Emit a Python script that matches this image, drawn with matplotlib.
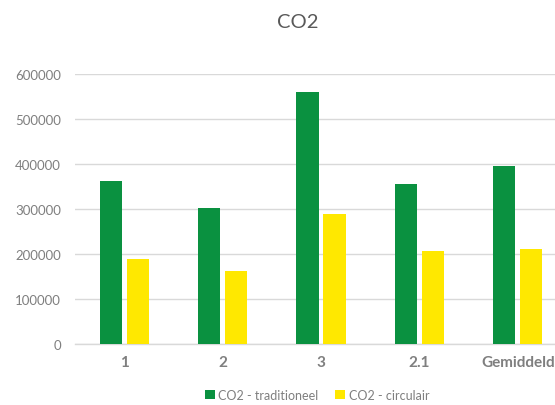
import matplotlib
matplotlib.use("Agg")
import matplotlib.pyplot as plt
import numpy as np
from matplotlib.patches import Patch

categories = ["1", "2", "3", "2.1", "Gemiddeld"]
traditioneel = [362000, 303000, 561000, 356000, 395500]
circulair = [189000, 163000, 288000, 207000, 211750]
series_names = ["CO2 - traditioneel", "CO2 - circulair"]
yticks = [0, 100000, 200000, 300000, 400000, 500000, 600000]

green = "#0A9140"
yellow = "#FFE800"
grid_col = "#D9D9D9"
text_col = "#7F7F7F"

plt.rcParams["font.family"] = ["Lato", "DejaVu Sans"]

W, H = 555, 406
fig = plt.figure(figsize=(W / 100, H / 100), dpi=100)
ax = fig.add_axes([75 / W, 61 / H, 492 / W, 270 / H])

x = np.arange(len(categories))
bw = 0.225
off = 0.137
ax.bar(x - off, traditioneel, bw, color=green, zorder=3)
ax.bar(x + off, circulair, bw, color=yellow, zorder=3)

ax.set_xlim(-0.5, len(categories) - 0.5)
ax.set_ylim(0, 600000)
ax.set_yticks(yticks)
ax.set_yticklabels([str(v) for v in yticks], fontsize=9.5, color=text_col)
ax.set_xticks(x)
ax.set_xticklabels(categories, fontsize=11, fontweight="bold", color=text_col)
ax.tick_params(axis="both", length=0)
ax.tick_params(axis="y", pad=10)
ax.tick_params(axis="x", pad=8)

ax.yaxis.grid(True, color=grid_col, linewidth=1, zorder=0)
for s in ["top", "right", "left"]:
    ax.spines[s].set_visible(False)
ax.spines["bottom"].set_color(grid_col)
ax.spines["bottom"].set_linewidth(1)

fig.text(298 / W, 1 - 22 / H, "CO2", ha="center", va="center", fontsize=14.5, color="#595959")

handles = [Patch(facecolor=green, label=series_names[0]),
           Patch(facecolor=yellow, label=series_names[1])]
fig.legend(handles=handles, loc="center", bbox_to_anchor=(317 / W, 1 - 396 / H),
           ncol=2, frameon=False, fontsize=9, labelcolor=text_col,
           handlelength=0.8, handleheight=0.8, handletextpad=0.3, columnspacing=1.3)

fig.savefig("out.png", dpi=100)
